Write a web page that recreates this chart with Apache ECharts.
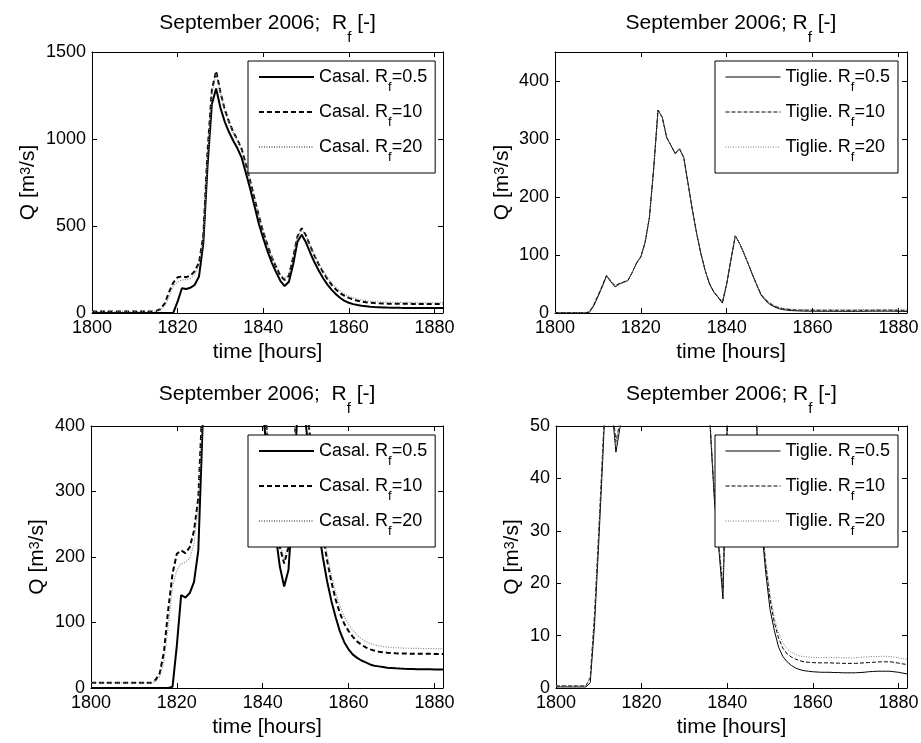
<!DOCTYPE html>
<html>
<head>
<meta charset="utf-8">
<script src="https://cdn.jsdelivr.net/npm/echarts@6/dist/echarts.min.js"></script>
<style>
    html, body { margin: 0; padding: 0; background: #fff; }
    #chart { width: 921px; height: 743px; }
</style>
</head>
<body>
<div id="chart"></div>
<script>
// ------------------------------------------------------------------------------------------------------------------
// data: simulated discharge, one value per hour
const hours = [
    1800,1801,1802,1803,1804,1805,1806,1807,1808,1809,
    1810,1811,1812,1813,1814,1815,1816,1817,1818,1819,
    1820,1821,1822,1823,1824,1825,1826,1827,1828,1829,
    1830,1831,1832,1833,1834,1835,1836,1837,1838,1839,
    1840,1841,1842,1843,1844,1845,1846,1847,1848,1849,
    1850,1851,1852,1853,1854,1855,1856,1857,1858,1859,
    1860,1861,1862,1863,1864,1865,1866,1867,1868,1869,
    1870,1871,1872,1873,1874,1875,1876,1877,1878,1879,
    1880,1881,1882
];

const casalRf05 = [
    0,0,0,0,0,0,0,0,0,0,
    0,0,0,0,0,0,0,0,0,2,
    65,142,138,145,162,210,400,850,1200,1290,
    1180,1100,1040,990,945,890,800,710,610,510,
    430,355,290,235,185,155,180,280,410,450,
    405,345,290,243,200,163,133,108,86,70,
    59,51,46,42,39,36,34,33,32,31,
    30.5,30,29.6,29.3,29.1,29,28.8,28.7,28.6,28.5,
    28.4,28.3,28.2
];
const casalRf10 = [
    8,8,8,8,8,8,8,8,8,8,
    8,8,8,8,8,12,22,55,120,175,
    205,210,206,215,240,290,440,930,1280,1390,
    1270,1170,1100,1040,995,940,850,755,655,555,
    465,390,320,265,215,190,215,320,440,487,
    445,385,328,278,234,195,162,135,114,98,
    87,78,71,66,62,59,57,55.5,54.5,53.8,
    53.3,53,52.8,52.6,52.5,52.4,52.3,52.2,52.2,52.1,
    52,52,52
];
const casalRf20 = [
    8,8,8,8,8,8,8,8,8,8,
    8,8,8,8,8,10,18,40,95,155,
    180,190,192,198,220,280,420,900,1260,1375,
    1265,1165,1095,1035,990,935,845,750,652,555,
    468,392,325,270,222,197,222,325,440,480,
    443,385,330,284,243,205,172,146,125,109,
    97,88,81,75,71,68,66,64.5,63.3,62.5,
    61.9,61.5,61.2,60.9,60.7,60.5,60.4,60.3,60.2,60.1,
    60,60,60
];

const tiglieRf05 = [
    0.2,0.2,0.2,0.2,0.2,0.2,0.2,0.2,1,12,
    28,45,64,54,45,50,53,56,70,86,
    97,122,165,250,350,337,303,289,275,283,
    268,223,178,137,102,73,50,36,27,17,
    50,92,133,120,103,85,66,48,31,22,
    15,11,7.8,6,5,4.3,3.8,3.5,3.3,3.2,
    3.1,3.05,3,3,3,2.95,2.95,2.9,2.9,2.9,
    2.9,2.95,3,3.1,3.15,3.2,3.2,3.2,3.2,3.1,
    3,2.85,2.7
];
const tiglieRf10 = [
    0.4,0.4,0.4,0.4,0.4,0.4,0.4,0.4,2,14,
    30,47,65,55,47,51,53.5,56.5,70.5,86,
    97,122,165,250,350,337,303,289,275,283,
    268,223,178,137,102,73,50.5,36.5,27.5,19,
    51,92.5,133,120,103,85,66.5,48.5,32,23.5,
    17,12.5,9.5,7.6,6.5,5.9,5.5,5.2,5,4.9,
    4.85,4.8,4.8,4.8,4.8,4.75,4.75,4.7,4.7,4.7,
    4.7,4.75,4.8,4.85,4.9,4.95,5,5,5,4.9,
    4.75,4.6,4.5
];
const tiglieRf20 = [
    0.4,0.4,0.4,0.4,0.4,0.4,0.4,0.4,2.2,14,
    30,47,65,55,46,50.5,53.5,56.5,70.5,86,
    97,122,165,250,350,337,303,289,275,283,
    268,223,178,137,102,73,51,37,28,19.5,
    51.5,93,133,120,103,85,67,49,33,24.5,
    18,13.5,10.5,8.6,7.5,6.8,6.4,6.1,6,5.9,
    5.85,5.8,5.8,5.8,5.8,5.8,5.8,5.75,5.75,5.75,
    5.8,5.85,5.9,5.95,6,6,6.05,6.05,6,5.9,
    5.75,5.6,5.5
];

const casalNames = ['Casal. Rf=0.5', 'Casal. Rf=10', 'Casal. Rf=20'];
const tiglieNames = ['Tiglie. Rf=0.5', 'Tiglie. Rf=10', 'Tiglie. Rf=20'];

const xTicks = {min: 1800, max: 1882, step: 20};

// ------------------------------------------------------------------------------------------------------------------
const FONT = '"Liberation Sans", Arial, Helvetica, sans-serif';

const casalStyles = [
    {color: '#000', width: 2, type: 'solid'},
    {color: '#000', width: 2, type: [5, 3]},
    {color: '#8a8a8a', width: 1.2, type: [1, 1.5]}
];
const tiglieStyles = [
    {color: '#000', width: 1, type: 'solid'},
    {color: '#000', width: 1, type: [4, 2]},
    {color: '#7a7a7a', width: 1, type: [1, 1.5]}
];

const panels = [
    {grid: {left: 92, top: 52, width: 351, height: 261}, yMax: 1500, yStep: 500,
        title: 'September 2006;  R{s|f} [-]', titleTop: 11, yNameGap: 52, legendLine: 2,
        names: casalNames, values: [casalRf05, casalRf10, casalRf20], styles: casalStyles,
        legend: {left: 248, top: 61}},
    {grid: {left: 555, top: 52, width: 352, height: 261}, yMax: 450, yStep: 100,
        title: 'September 2006; R{s|f} [-]', titleTop: 11, yNameGap: 41, legendLine: 1,
        names: tiglieNames, values: [tiglieRf05, tiglieRf10, tiglieRf20], styles: tiglieStyles,
        legend: {left: 715, top: 61}},
    {grid: {left: 91, top: 426, width: 352, height: 262}, yMax: 400, yStep: 100,
        title: 'September 2006;  R{s|f} [-]', titleTop: 382, yNameGap: 42, legendLine: 2,
        names: casalNames, values: [casalRf05, casalRf10, casalRf20], styles: casalStyles,
        legend: {left: 248, top: 435}},
    {grid: {left: 556, top: 426, width: 351, height: 262}, yMax: 50, yStep: 10,
        title: 'September 2006; R{s|f} [-]', titleTop: 382, yNameGap: 32, legendLine: 1,
        names: tiglieNames, values: [tiglieRf05, tiglieRf10, tiglieRf20], styles: tiglieStyles,
        legend: {left: 715, top: 435}}
];

function axisBase(min, max, step, position, withLabels) {
    return {
        type: 'value', min: min, max: max, interval: step, position: position,
        axisLine: {show: true, onZero: false, lineStyle: {color: '#000', width: 1}},
        axisTick: {show: true, inside: true, length: 5, lineStyle: {color: '#000', width: 1}},
        axisLabel: {show: withLabels, fontSize: 18, color: '#000', fontFamily: FONT, margin: 6,
            showMaxLabel: (max % step === 0), formatter: v => String(v)},
        splitLine: {show: false}
    };
}

function buildOption() {
    let grid = [], xAxis = [], yAxis = [], series = [], title = [], legend = [];

    panels.forEach((p, i) => {
        grid.push(Object.assign({containLabel: false, outerBoundsMode: 'none', show: false}, p.grid));

        // bottom / top
        let xb = axisBase(xTicks.min, xTicks.max, xTicks.step, 'bottom', true);
        xb.gridIndex = i;
        xb.name = 'time [hours]';
        xb.nameLocation = 'middle';
        xb.nameGap = 27;
        xb.nameTextStyle = {fontSize: 21, color: '#000', fontFamily: FONT, lineHeight: 24};
        xAxis.push(xb);
        let xt = axisBase(xTicks.min, xTicks.max, xTicks.step, 'top', false);
        xt.gridIndex = i;
        xAxis.push(xt);

        // left / right
        let yl = axisBase(0, p.yMax, p.yStep, 'left', true);
        yl.gridIndex = i;
        yl.name = 'Q [m{sup|3}/s]';
        yl.nameLocation = 'middle';
        yl.nameGap = p.yNameGap;
        yl.nameTextStyle = {fontSize: 21, color: '#000', fontFamily: FONT, lineHeight: 24,
            rich: {sup: {fontSize: 14, color: '#000', fontFamily: FONT, lineHeight: 2, verticalAlign: 'top', padding: [3, 0, 0, 0]}}};
        yAxis.push(yl);
        let yr = axisBase(0, p.yMax, p.yStep, 'right', false);
        yr.gridIndex = i;
        yAxis.push(yr);

        title.push({
            text: p.title, left: p.grid.left + p.grid.width / 2, top: p.titleTop, textAlign: 'center', padding: 0,
            textStyle: {fontSize: 21, fontWeight: 'normal', color: '#000', fontFamily: FONT, lineHeight: 24,
                rich: {s: {fontSize: 15, color: '#000', fontFamily: FONT, lineHeight: 2, verticalAlign: 'top', padding: [19, 0, 0, 0]}}}
        });

        // легенда: линия берёт цвет и пунктир у серии, толщину задаём сами
        legend.push({
            data: p.names, orient: 'vertical', left: p.legend.left, top: p.legend.top,
            padding: [4, 8, 9, 10], itemGap: 6, itemWidth: 55, itemHeight: 24,
            backgroundColor: '#fff', borderColor: '#000', borderWidth: 1, borderRadius: 0,
            selectedMode: false, itemStyle: {opacity: 0},
            lineStyle: {width: p.legendLine, type: 'inherit', color: 'inherit'},
            formatter: n => n.replace('Rf', 'R{s|f}'),
            textStyle: {fontSize: 18, color: '#000', fontFamily: FONT, lineHeight: 24,
                rich: {s: {fontSize: 13, color: '#000', fontFamily: FONT, lineHeight: 2, verticalAlign: 'top', padding: [16, 0, 0, 0]}}}
        });

        p.names.forEach((name, k) => {
            let st = p.styles[k];
            series.push({
                type: 'line', name: name, xAxisIndex: 2 * i, yAxisIndex: 2 * i,
                data: hours.map((h, j) => [h, p.values[k][j]]),
                symbol: 'none', showSymbol: false, clip: true, silent: true,
                itemStyle: {color: 'rgba(0,0,0,0)', borderWidth: 0},
                lineStyle: {color: st.color, width: st.width, type: st.type},
                emphasis: {disabled: true}
            });
        });
    });

    return {animation: false, backgroundColor: '#fff', title, legend, grid, xAxis, yAxis, series};
}

let chart = echarts.init(document.getElementById('chart'), null, {renderer: 'canvas'});
chart.setOption(buildOption());
</script>
</body>
</html>
